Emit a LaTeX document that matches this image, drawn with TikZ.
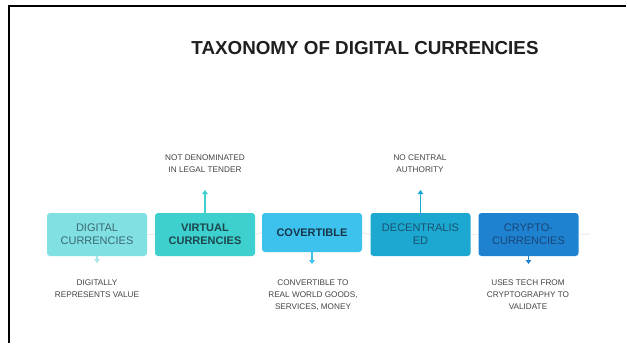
\documentclass[tikz,border=0pt]{standalone}
\usepackage{fontspec}
\setmainfont{Liberation Sans}
\usetikzlibrary{arrows.meta}
\definecolor{cA}{HTML}{80E0E2}
\definecolor{cB}{HTML}{3ECFCF}
\definecolor{cC}{HTML}{3CC2EC}
\definecolor{cD}{HTML}{1CA8D0}
\definecolor{cE}{HTML}{1E82D0}
\definecolor{tA}{HTML}{3A6A72}
\definecolor{tB}{HTML}{1C474C}
\definecolor{tC}{HTML}{17354A}
\definecolor{tD}{HTML}{1A5272}
\definecolor{tE}{HTML}{1A4678}
\definecolor{aA}{HTML}{A6E8EA}
\definecolor{note}{HTML}{444444}
\tikzset{
  cbox/.style={rounded corners=3pt, minimum width=100pt, minimum height=43pt, inner sep=0pt, align=center, font=\fontsize{11}{13}\selectfont},
  notetext/.style={align=center, text=note, font=\fontsize{8.2}{12}\selectfont, inner sep=0pt},
  arr/.style={line width=1.8pt, -{Triangle[width=5.5pt,length=4pt]}},
  link/.style={draw=black!8, line width=1pt},
}
\begin{document}
\begin{tikzpicture}[x=1pt,y=-1pt]
\useasboundingbox (0,0) rectangle (627,343);
\fill[white] (0,0) rectangle (627,343);
\draw[line width=2.2pt] (9,343) -- (9,6) -- (626,6);
\node[font=\fontsize{18.8}{22}\selectfont\bfseries, text=black!88, inner sep=0pt] (title) at (365,48) {TAXONOMY OF DIGITAL CURRENCIES};
\coordinate (tail) at (590,234);
\node[cbox, fill=cA, text=tA] (b1) at (97,234.5) {DIGITAL\\CURRENCIES};
\node[cbox, fill=cB, text=tB, font=\fontsize{11}{13}\selectfont\bfseries] (b2) at (205,234.5) {VIRTUAL\\CURRENCIES};
\node[cbox, fill=cC, text=tC, font=\fontsize{11}{13}\selectfont\bfseries, minimum height=39pt] (b3) at (312,232.5) {COVERTIBLE};
\node[cbox, fill=cD, text=tD] (b4) at (420.5,234.5) {DECENTRALIS\\ED};
\node[cbox, fill=cE, text=tE] (b5) at (528.5,234.5) {CRYPTO-\\CURRENCIES};
\draw[link] (b1.east) -- (b2.west);
\draw[link] (b2.east) -- (b3.west);
\draw[link] (b3.east) -- (b4.west);
\draw[link] (b4.east) -- (b5.west);
\draw[link] (b5.east) -- (tail);
% notes
\node[notetext] (n2) at (205,163.5) {NOT DENOMINATED\\IN LEGAL TENDER};
\node[notetext] (n4) at (420,163.5) {NO CENTRAL\\AUTHORITY};
\node[notetext] (n1) at (97,289) {DIGITALLY\\REPRESENTS VALUE};
\node[notetext] (n3) at (313,295) {CONVERTIBLE TO\\REAL WORLD GOODS,\\SERVICES, MONEY};
\node[notetext] (n5) at (528,295) {USES TECH FROM\\CRYPTOGRAPHY TO\\VALIDATE};
% arrows
\coordinate (e1) at (97,263);
\coordinate (e2) at (205,190);
\coordinate (e3) at (312,264);
\coordinate (e4) at (420.5,190);
\coordinate (e5) at (528.5,264);
\draw[arr, draw=aA] (b1.south) -- (e1);
\draw[arr, draw=cB] (b2.north) -- (e2);
\draw[arr, draw=cC] (b3.south) -- (e3);
\draw[arr, draw=cD] (b4.north) -- (e4);
\draw[arr, draw=cE] (b5.south) -- (e5);
\end{tikzpicture}
\end{document}
